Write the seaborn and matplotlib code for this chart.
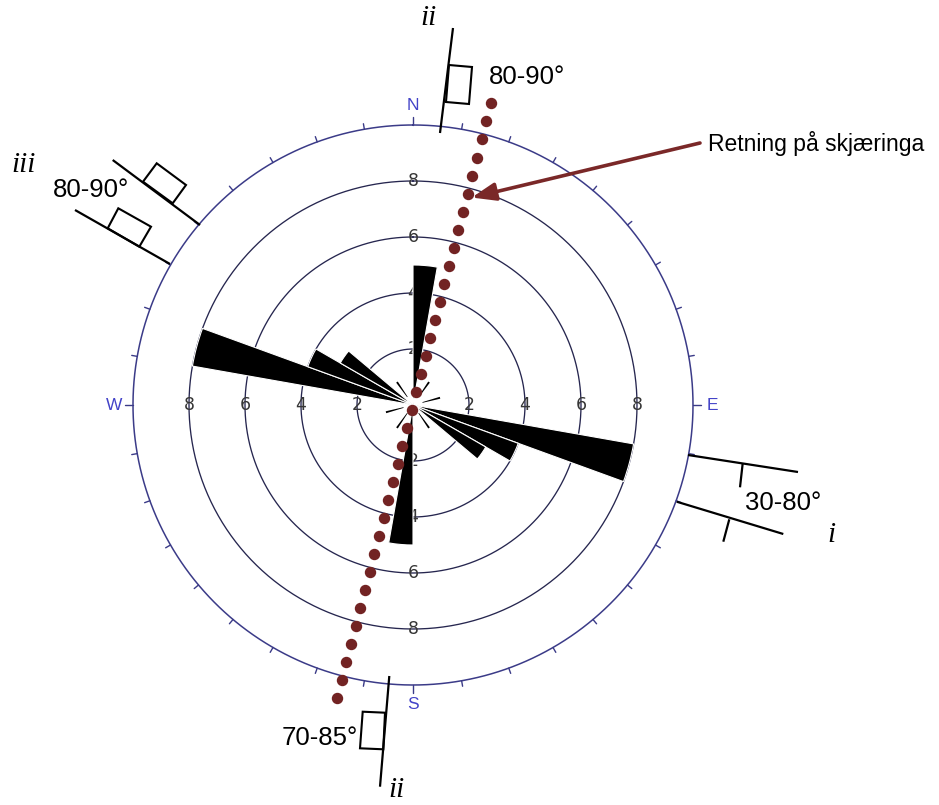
import numpy as np
import pandas as pd
import matplotlib
matplotlib.use("Agg")
import matplotlib.pyplot as plt
from matplotlib.patches import Polygon
import seaborn as sns

# Rose diagram classes: start bearing of each 10° class and its count
class_start = [0, 100, 110, 120, 180, 280, 290, 300]
class_count = [5, 8, 4, 3, 5, 8, 4, 3]
class_width = 10

# Single-count classes, drawn as short spokes near the centre
spoke_bearing = [35, 75, 145, 215, 255, 325]
spoke_count = [1, 1, 1, 1, 1, 1]

ring_values = [2, 4, 6, 8]
outer_ring = 10
cardinal_names = ["N", "E", "S", "W"]
cardinal_bearing = [0, 90, 180, 270]

# Direction of the road cut (bearing, degrees)
cut_bearing = 14.5

petals = pd.DataFrame({"start": class_start, "count": class_count})
petals["theta"] = np.radians(petals["start"] + class_width / 2)

sns.set_theme(style="white")
plt.rcParams["font.family"] = ["Liberation Sans", "DejaVu Sans"]

W, H = 939, 805
fig = plt.figure(figsize=(W / 100, H / 100), dpi=100)
fig.patch.set_facecolor("white")

PX = 28.0            # pixels per count unit
RMAX = 11.6
cx, cy = 413, 405    # centre of the rose in pixels (top-left origin)
R = RMAX * PX
ax = fig.add_axes([(cx - R) / W, (H - cy - R) / H, 2 * R / W, 2 * R / H],
                  projection="polar")
ax.set_theta_zero_location("N")
ax.set_theta_direction(-1)
ax.set_ylim(0, RMAX)
ax.axis("off")

ring_col = "#26264f"
outer_col = "#3b3b88"
full = np.linspace(0, 2 * np.pi, 720)

# concentric count rings
for r in ring_values:
    ax.plot(full, np.full_like(full, r), color=ring_col, lw=0.95, zorder=1)
ax.plot(full, np.full_like(full, outer_ring), color=outer_col, lw=1.1, zorder=1)

# ring labels along the four axes
for r in ring_values:
    for b in cardinal_bearing:
        ax.text(np.radians(b), r, str(r), ha="center", va="center",
                fontsize=12.5, color="#363636", family="DejaVu Sans", zorder=2)

# compass ticks every 10°
for b in range(0, 360, 10):
    L = 0.3 if b % 90 == 0 else 0.2
    t = np.radians(b)
    ax.plot([t, t], [outer_ring, outer_ring + L], color=outer_col, lw=1.0, zorder=1)

for name, b in zip(cardinal_names, cardinal_bearing):
    ax.text(np.radians(b), 10.68, name, ha="center", va="center",
            fontsize=12.5, color="#4343c8", zorder=2)

# petals
ax.bar(petals["theta"], petals["count"], width=np.radians(class_width),
       bottom=0, color="black", edgecolor="white", linewidth=0.8, zorder=3)

# single-count spokes
ax.bar(np.radians(spoke_bearing), np.array(spoke_count) - 0.35,
       width=np.radians(4), bottom=0.35, color="black", edgecolor="none", zorder=3)

# dotted cut line through the centre
steps = np.arange(-16, 18)
r_dots = -0.18 + steps * 0.665
th = np.where(r_dots >= 0, np.radians(cut_bearing), np.radians(cut_bearing + 180))
ax.plot(th, np.abs(r_dots), ls="none", marker="o", ms=7.2,
        color="#722323", zorder=5, clip_on=False)

ax.annotate("", xy=(np.radians(cut_bearing + 1.3), 7.7), xycoords="data",
            xytext=(700, H - 143), textcoords="figure pixels",
            arrowprops=dict(arrowstyle="-|>,head_length=1.2,head_width=0.45",
                            color="#7a2828", lw=2.6, shrinkA=0, shrinkB=0),
            zorder=6, annotation_clip=False)

# overlay for strike/dip symbols and notes, in pixel units
ov = fig.add_axes([0, 0, 1, 1])
ov.set_xlim(0, W)
ov.set_ylim(H, 0)
ov.axis("off")
ov.patch.set_alpha(0)

def seg(p, q, lw=1.6):
    ov.plot([p[0], q[0]], [p[1], q[1]], color="black", lw=lw,
            solid_capstyle="butt")

def box(pts):
    ov.add_patch(Polygon(pts, closed=True, fill=False, ec="black", lw=1.5))

# ii (north)
seg((440, 133), (453, 28))
box([(449, 65), (472, 67), (469, 104), (446, 102)])
# iii (north-west)
seg((112.7, 160), (200, 225))
box([(143, 181.7), (156.7, 163.3), (186, 185), (172.7, 203.3)])
seg((75, 210), (170, 264))
box([(107.7, 228.3), (118.3, 208.3), (151, 226.7), (139.3, 246.7)])
# i (east-south-east)
seg((688, 455), (798, 472))
seg((742.7, 463.3), (740, 487.3))
seg((676.7, 501.7), (783.3, 534))
seg((729.3, 519.3), (723.3, 541.7))
# ii (south)
seg((389.3, 676), (380, 786.7))
box([(385, 712.7), (362.7, 711.7), (360, 748.3), (383.3, 749.3)])

lab = dict(fontsize=18.5, color="black", va="center")
ov.text(489, 77, "80-90°", ha="left", **lab)
ov.text(129, 190, "80-90°", ha="right", **lab)
ov.text(745, 503, "30-80°", ha="left", **lab)
ov.text(358, 738, "70-85°", ha="right", **lab)
ov.text(708, 143, "Retning på skjæringa", ha="left", va="center",
        fontsize=16.5, color="black")

rom = dict(fontsize=21, family="Liberation Serif", style="italic",
           color="black", va="center", ha="center")
ov.text(429, 18, "ii", **rom)
ov.text(24, 165, "iii", **rom)
ov.text(831, 535, "i", **rom)
ov.text(397, 790, "ii", **rom)

fig.savefig("out.png", dpi=100, facecolor="white")
